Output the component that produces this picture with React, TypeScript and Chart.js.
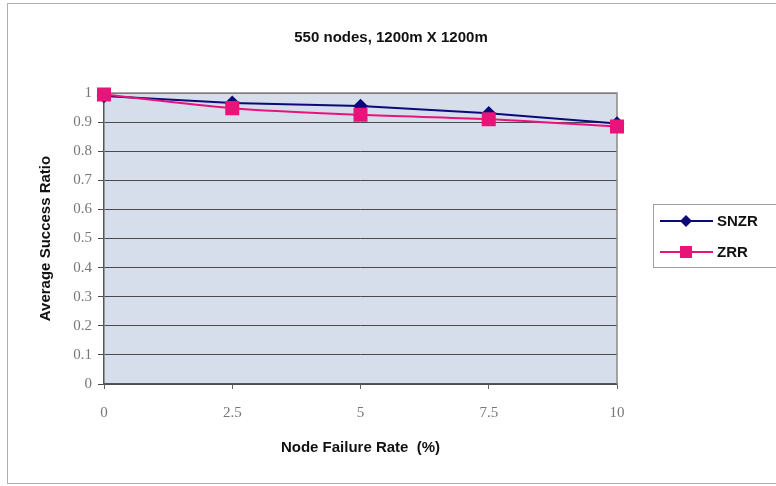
import React, { useEffect, useRef } from "react";
import { Chart, registerables } from "chart.js";

Chart.register(...registerables);

const xValues = [0, 2.5, 5, 7.5, 10];
const snzr = [0.99, 0.966, 0.955, 0.93, 0.895];
const zrr = [0.995, 0.948, 0.925, 0.91, 0.885];
const seriesNames = ["SNZR", "ZRR"];
const titleText = "550 nodes, 1200m X 1200m";
const xTitle = "Node Failure Rate  (%)";
const yTitle = "Average Success Ratio";

const BLUE = "#0a0a78";
const PINK = "#e8147a";

const decorPlugin = {
  id: "decor",
  beforeDraw(chart: any) {
    const { ctx, chartArea: a } = chart;
    ctx.save();
    ctx.fillStyle = "#ffffff";
    ctx.fillRect(0, 0, chart.width, chart.height);
    ctx.strokeStyle = "#b0b0b0";
    ctx.lineWidth = 1;
    ctx.strokeRect(7.5, 3.5, chart.width + 10, 480);
    ctx.fillStyle = "#d6deec";
    ctx.fillRect(a.left, a.top, a.right - a.left, a.bottom - a.top);
    ctx.fillStyle = "#111111";
    ctx.font = "bold 15px 'Liberation Sans', Arial, sans-serif";
    ctx.textAlign = "center";
    ctx.textBaseline = "middle";
    ctx.fillText(titleText, 391, 38);
    ctx.restore();
  },
  beforeDatasetsDraw(chart: any) {
    const { ctx, chartArea: a } = chart;
    ctx.save();
    ctx.strokeStyle = "#8a8a8a";
    ctx.lineWidth = 1.5;
    ctx.beginPath();
    ctx.moveTo(a.left, a.top);
    ctx.lineTo(a.right, a.top);
    ctx.lineTo(a.right, a.bottom);
    ctx.stroke();
    ctx.restore();
  },
  afterDraw(chart: any) {
    const { ctx } = chart;
    ctx.save();
    ctx.strokeStyle = "#a0a0a0";
    ctx.lineWidth = 1;
    ctx.fillStyle = "#ffffff";
    ctx.fillRect(653, 204, 130, 63);
    ctx.strokeRect(653.5, 204.5, 130, 63);
    const rows = [
      { name: seriesNames[0], color: BLUE, y: 221, style: "diamond" },
      { name: seriesNames[1], color: PINK, y: 252, style: "square" },
    ];
    rows.forEach((r) => {
      ctx.strokeStyle = r.color;
      ctx.lineWidth = 2;
      ctx.beginPath();
      ctx.moveTo(660, r.y);
      ctx.lineTo(713, r.y);
      ctx.stroke();
      ctx.fillStyle = r.color;
      ctx.beginPath();
      if (r.style === "diamond") {
        ctx.moveTo(686, r.y - 6);
        ctx.lineTo(692, r.y);
        ctx.lineTo(686, r.y + 6);
        ctx.lineTo(680, r.y);
        ctx.closePath();
      } else {
        ctx.rect(680, r.y - 6, 12, 12);
      }
      ctx.fill();
      ctx.fillStyle = "#111111";
      ctx.font = "bold 15px 'Liberation Sans', Arial, sans-serif";
      ctx.textBaseline = "middle";
      ctx.textAlign = "left";
      ctx.fillText(r.name, 717, r.y + 1);
    });
    ctx.restore();
  },
};

export default function App() {
  const ref = useRef<HTMLCanvasElement>(null);
  useEffect(() => {
    document.body.style.margin = "0";
    const canvas = ref.current!;
    const chart = new Chart(canvas, {
      type: "line",
      data: {
        datasets: [
          {
            label: seriesNames[0],
            data: xValues.map((x, i) => ({ x, y: snzr[i] })),
            borderColor: BLUE,
            backgroundColor: BLUE,
            borderWidth: 2,
            pointStyle: "rectRot",
            pointRadius: 6,
            pointHoverRadius: 6,
            tension: 0,
            clip: false,
            order: 1,
          },
          {
            label: seriesNames[1],
            data: xValues.map((x, i) => ({ x, y: zrr[i] })),
            borderColor: PINK,
            backgroundColor: PINK,
            borderWidth: 2,
            pointStyle: "rect",
            pointRadius: 8.5,
            pointHoverRadius: 8.5,
            cubicInterpolationMode: "monotone",
            clip: false,
            order: 0,
          },
        ],
      },
      options: {
        animation: false,
        responsive: false,
        events: [],
        layout: { padding: { left: 0, right: 159, top: 93, bottom: 0 } },
        plugins: {
          legend: { display: false },
          tooltip: { enabled: false },
          title: { display: false },
        },
        scales: {
          x: {
            type: "linear",
            min: 0,
            max: 10,
            afterFit: (s: any) => {
              s.height = 102;
            },
            afterBuildTicks: (s: any) => {
              s.ticks = xValues.map((v) => ({ value: v }));
            },
            ticks: {
              color: "#777777",
              font: { family: "'Liberation Serif', 'Times New Roman', serif", size: 15 },
              padding: 15,
              maxRotation: 0,
              callback: (v: any) => String(v),
            },
            grid: {
              display: true,
              drawOnChartArea: false,
              drawTicks: true,
              tickLength: 5,
              color: "#666666",
            },
            border: { display: true, color: "#555555", width: 1.5 },
            title: {
              display: true,
              text: xTitle,
              color: "#111111",
              font: { family: "'Liberation Sans', Arial, sans-serif", size: 15, weight: "bold" },
              padding: { top: 0, bottom: 29 },
            },
          },
          y: {
            min: 0,
            max: 1,
            afterFit: (s: any) => {
              s.width = 104;
            },
            ticks: {
              stepSize: 0.1,
              color: "#777777",
              font: { family: "'Liberation Serif', 'Times New Roman', serif", size: 15 },
              padding: 6,
              callback: (v: any) => String(Math.round(v * 10) / 10),
            },
            grid: {
              color: "#4a4a4a",
              lineWidth: 1,
              tickLength: 6,
              drawTicks: true,
            },
            border: { display: true, color: "#555555", width: 1.5 },
            title: {
              display: true,
              text: yTitle,
              color: "#111111",
              font: { family: "'Liberation Sans', Arial, sans-serif", size: 15, weight: "bold" },
              padding: { top: 37, bottom: 0 },
            },
          },
        },
      },
      plugins: [decorPlugin],
    });
    return () => chart.destroy();
  }, []);
  return <canvas ref={ref} width={776} height={486} style={{ display: "block" }} />;
}
